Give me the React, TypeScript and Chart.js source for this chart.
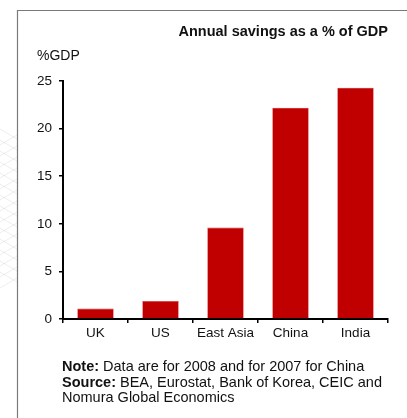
import React, { useEffect, useRef } from "react";
import { Chart, registerables } from "chart.js";

Chart.register(...registerables);

const categories = ["UK", "US", "East Asia", "China", "India"];
const savings = [1.1, 1.9, 9.6, 22.2, 24.3];
const yTicks = [0, 5, 10, 15, 20, 25];
const titleText = "Annual savings as a % of GDP";
const unitText = "%GDP";
const noteLines: [string, string][] = [
  ["Note:", " Data are for 2008 and for 2007 for China"],
  ["Source:", " BEA, Eurostat, Bank of Korea, CEIC and"],
  ["", "Nomura Global Economics"],
];

const FONT = "'Liberation Sans', Arial, Helvetica, sans-serif";

const decorPlugin = {
  id: "decor",
  beforeDraw(chart: any) {
    const ctx = chart.ctx;
    const w = chart.width;
    const h = chart.height;
    ctx.save();
    ctx.fillStyle = "#ffffff";
    ctx.fillRect(0, 0, w, h);
    // faint decorative lines on the left margin
    ctx.beginPath();
    ctx.rect(0, 0, 17, h);
    ctx.clip();
    ctx.strokeStyle = "rgba(0,0,0,0.09)";
    ctx.lineWidth = 0.8;
    for (let i = 0; i < 14; i++) {
      const y0 = 135 + i * 11;
      ctx.beginPath();
      ctx.moveTo(0, y0 + 10);
      ctx.lineTo(17, y0);
      ctx.stroke();
      ctx.beginPath();
      ctx.moveTo(0, y0 - 6);
      ctx.lineTo(17, y0 + 4);
      ctx.stroke();
    }
    ctx.restore();
    // frame
    ctx.save();
    ctx.strokeStyle = "#7a7a7a";
    ctx.lineWidth = 1.2;
    ctx.beginPath();
    ctx.moveTo(17.5, h);
    ctx.lineTo(17.5, 10.5);
    ctx.lineTo(w, 10.5);
    ctx.stroke();
    ctx.restore();
  },
  afterDraw(chart: any) {
    const ctx = chart.ctx;
    const area = chart.chartArea;
    ctx.save();
    ctx.fillStyle = "#111";
    ctx.textBaseline = "middle";
    ctx.font = `bold 14.5px ${FONT}`;
    ctx.textAlign = "right";
    ctx.fillText(titleText, area.right, 32);
    ctx.font = `14px ${FONT}`;
    ctx.textAlign = "left";
    ctx.fillText(unitText, 37, 56);
    let y = 367;
    for (const [b, r] of noteLines) {
      let x = 62;
      if (b) {
        ctx.font = `bold 14.5px ${FONT}`;
        ctx.fillText(b, x, y);
        x += ctx.measureText(b).width;
      }
      ctx.font = `14.5px ${FONT}`;
      ctx.fillText(r, x, y);
      y += 15.5;
    }
    ctx.restore();
  },
};

export default function App() {
  const ref = useRef<HTMLCanvasElement | null>(null);
  useEffect(() => {
    if (!ref.current) return;
    const chart = new Chart(ref.current, {
      type: "bar",
      data: {
        labels: categories,
        datasets: [
          {
            data: savings,
            backgroundColor: "#c00000",
            borderColor: "#d23a3a",
            borderWidth: 0.6,
            categoryPercentage: 1,
            barPercentage: 0.56,
          },
        ],
      },
      options: {
        animation: false,
        responsive: false,
        maintainAspectRatio: false,
        layout: { padding: { left: 0, top: 81, right: 19, bottom: 69 } },
        plugins: {
          legend: { display: false },
          title: { display: false },
          tooltip: { enabled: false },
        },
        scales: {
          x: {
            afterFit(scale: any) {
              scale.height = 30;
            },
            border: { color: "#000", width: 2 },
            grid: {
              drawOnChartArea: false,
              offset: true,
              tickLength: 4,
              color: "#000",
              lineWidth: 1.5,
            },
            ticks: {
              color: "#111",
              font: { family: FONT, size: 13.5 },
              padding: 2,
              maxRotation: 0,
            },
          },
          y: {
            min: 0,
            max: 25,
            afterFit(scale: any) {
              scale.width = 63;
            },
            afterBuildTicks(scale: any) {
              scale.ticks = yTicks.map((v) => ({ value: v }));
            },
            border: { color: "#000", width: 2 },
            grid: {
              drawOnChartArea: false,
              tickLength: 4,
              color: "#000",
              lineWidth: 1.5,
            },
            ticks: {
              color: "#111",
              font: { family: FONT, size: 13.5 },
              padding: 7,
            },
          },
        },
      },
      plugins: [decorPlugin],
    });
    return () => chart.destroy();
  }, []);
  return (
    <div style={{ position: "fixed", left: 0, top: 0, width: 407, height: 418 }}>
      <canvas ref={ref} width={407} height={418} style={{ display: "block" }} />
    </div>
  );
}
